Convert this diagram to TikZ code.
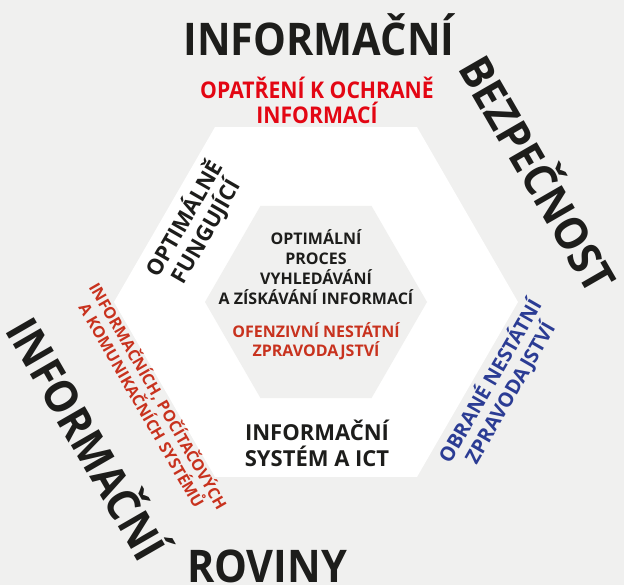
\documentclass[tikz,border=0pt]{standalone}
\usepackage{fontspec}
\setmainfont{Open Sans}
\newfontfamily\narrowsans[FakeStretch=0.92]{Open Sans}
\usepackage{tikz}
\usetikzlibrary{calc}
\definecolor{bggray}{HTML}{F0F0EF}
\definecolor{inkblack}{HTML}{1D1D1B}
\definecolor{topred}{HTML}{E30613}
\definecolor{darkred}{HTML}{C8321E}
\definecolor{navyblue}{HTML}{2B3C94}
\tikzset{
	big/.style={inner sep=0pt, text=inkblack, font=\narrowsans\fontsize{45}{45}\selectfont\bfseries},
	caption/.style n args={2}{inner sep=0pt, align=center, font=\fontsize{#1}{#2}\selectfont\bfseries},
}

\begin{document}
\begin{tikzpicture}[line cap=round,line join=round,x=1pt,y=-1pt]
		\fill[bggray] (0,0) rectangle (624,585);
		\useasboundingbox (0,0) rectangle (624,585);
		\fill[white,shift={(316,302)}] (0:202) \foreach \a in {60,120,...,300} { -- (\a:202) } -- cycle;
		\fill[bggray,shift={(316,302)}] (0:111) \foreach \a in {60,120,...,300} { -- (\a:111) } -- cycle;
		\node[big] (topword) at (319,35) {INFORMAČNÍ};
		\node[big,rotate=-60] (rightword) at (541,172) {BEZPEČNOST};
		\node[big,rotate=-60] (leftword) at (90,437) {INFORMAČNÍ};
		\node[big] (bottomword) at (267,566) {ROVINY};
		\node[caption={23}{25},text=topred,font=\narrowsans\fontsize{23}{25}\selectfont\bfseries] (protect) at (317,100) {OPATŘENÍ K OCHRANĚ\\INFORMACÍ};
		\node[caption={22}{25},text=inkblack,rotate=60] (optimal) at (195,225) {OPTIMÁLNĚ\\FUNGUJÍCÍ};
		\node[caption={16}{18},text=darkred,rotate=-60] (systems) at (151,400) {INFORMAČNÍCH, POČÍTAČOVÝCH\\A KOMUNIKAČNÍCH SYSTÉMŮ};
		\node[caption={20}{23},text=navyblue,rotate=60] (defence) at (500,387) {OBRANÉ NESTÁTNÍ\\ZPRAVODAJSTVÍ};
		\node[caption={16}{20},text=inkblack] (process) at (316,267) {OPTIMÁLNÍ\\PROCES\\VYHLEDÁVÁNÍ\\A ZÍSKÁVÁNÍ INFORMACÍ};
		\node[caption={16}{19},text=darkred] (offence) at (316,341) {OFENZIVNÍ NESTÁTNÍ\\ZPRAVODAJSTVÍ};
		\node[caption={22}{26},text=inkblack] (ict) at (317,443) {INFORMAČNÍ\\SYSTÉM A ICT};
		\end{tikzpicture}
\end{document}
